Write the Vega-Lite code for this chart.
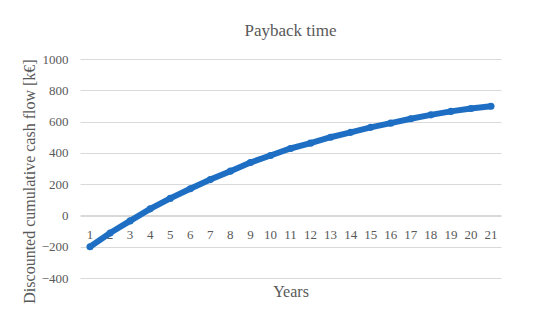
{
  "$schema": "https://vega.github.io/schema/vega-lite/v6.json",
  "width": 421,
  "height": 219,
  "autosize": "none",
  "padding": {"left": 80, "top": 59, "right": 49, "bottom": 46},
  "background": "white",
  "title": {
    "text": "Payback time",
    "font": "Liberation Serif",
    "fontSize": 17,
    "fontWeight": "normal",
    "color": "#595959",
    "anchor": "middle",
    "offset": 13
  },
  "data": {
    "values": [
      {"year": 1, "value": -200},
      {"year": 2, "value": -112},
      {"year": 3, "value": -35},
      {"year": 4, "value": 42},
      {"year": 5, "value": 109},
      {"year": 6, "value": 171},
      {"year": 7, "value": 229},
      {"year": 8, "value": 283},
      {"year": 9, "value": 338},
      {"year": 10, "value": 383},
      {"year": 11, "value": 428},
      {"year": 12, "value": 462},
      {"year": 13, "value": 500},
      {"year": 14, "value": 531},
      {"year": 15, "value": 563},
      {"year": 16, "value": 590},
      {"year": 17, "value": 618},
      {"year": 18, "value": 643},
      {"year": 19, "value": 665},
      {"year": 20, "value": 683},
      {"year": 21, "value": 698}
    ]
  },
  "encoding": {
    "x": {
      "field": "year",
      "type": "ordinal",
      "scale": {"type": "band", "paddingInner": 0, "paddingOuter": 0},
      "axis": {
        "title": "Years",
        "labelAngle": 0,
        "offset": -62,
        "ticks": false,
        "domain": true,
        "domainColor": "#d9d9d9",
        "labelPadding": 12,
        "labelFontSize": 13,
        "titleFontSize": 16,
        "titleY": 67,
        "grid": false
      }
    },
    "y": {
      "field": "value",
      "type": "quantitative",
      "scale": {"domain": [-400, 1000], "nice": false},
      "axis": {
        "title": "Discounted cumulative cash flow [k€]",
        "values": [-400, -200, 0, 200, 400, 600, 800, 1000],
        "format": "d",
        "ticks": false,
        "domain": false,
        "grid": true,
        "gridColor": "#d9d9d9",
        "labelPadding": 12,
        "labelFontSize": 13,
        "titleFontSize": 16,
        "titlePadding": 4,
        "titleY": 122
      }
    }
  },
  "layer": [
    {"mark": {"type": "line", "color": "#1e6fc3", "strokeWidth": 6}},
    {"mark": {"type": "point", "filled": true, "color": "#1e6fc3", "opacity": 1, "size": 50}}
  ],
  "config": {
    "view": {"stroke": null},
    "axis": {
      "labelFont": "Liberation Serif",
      "labelColor": "#595959",
      "titleFont": "Liberation Serif",
      "titleColor": "#595959",
      "titleFontWeight": "normal"
    }
  }
}
